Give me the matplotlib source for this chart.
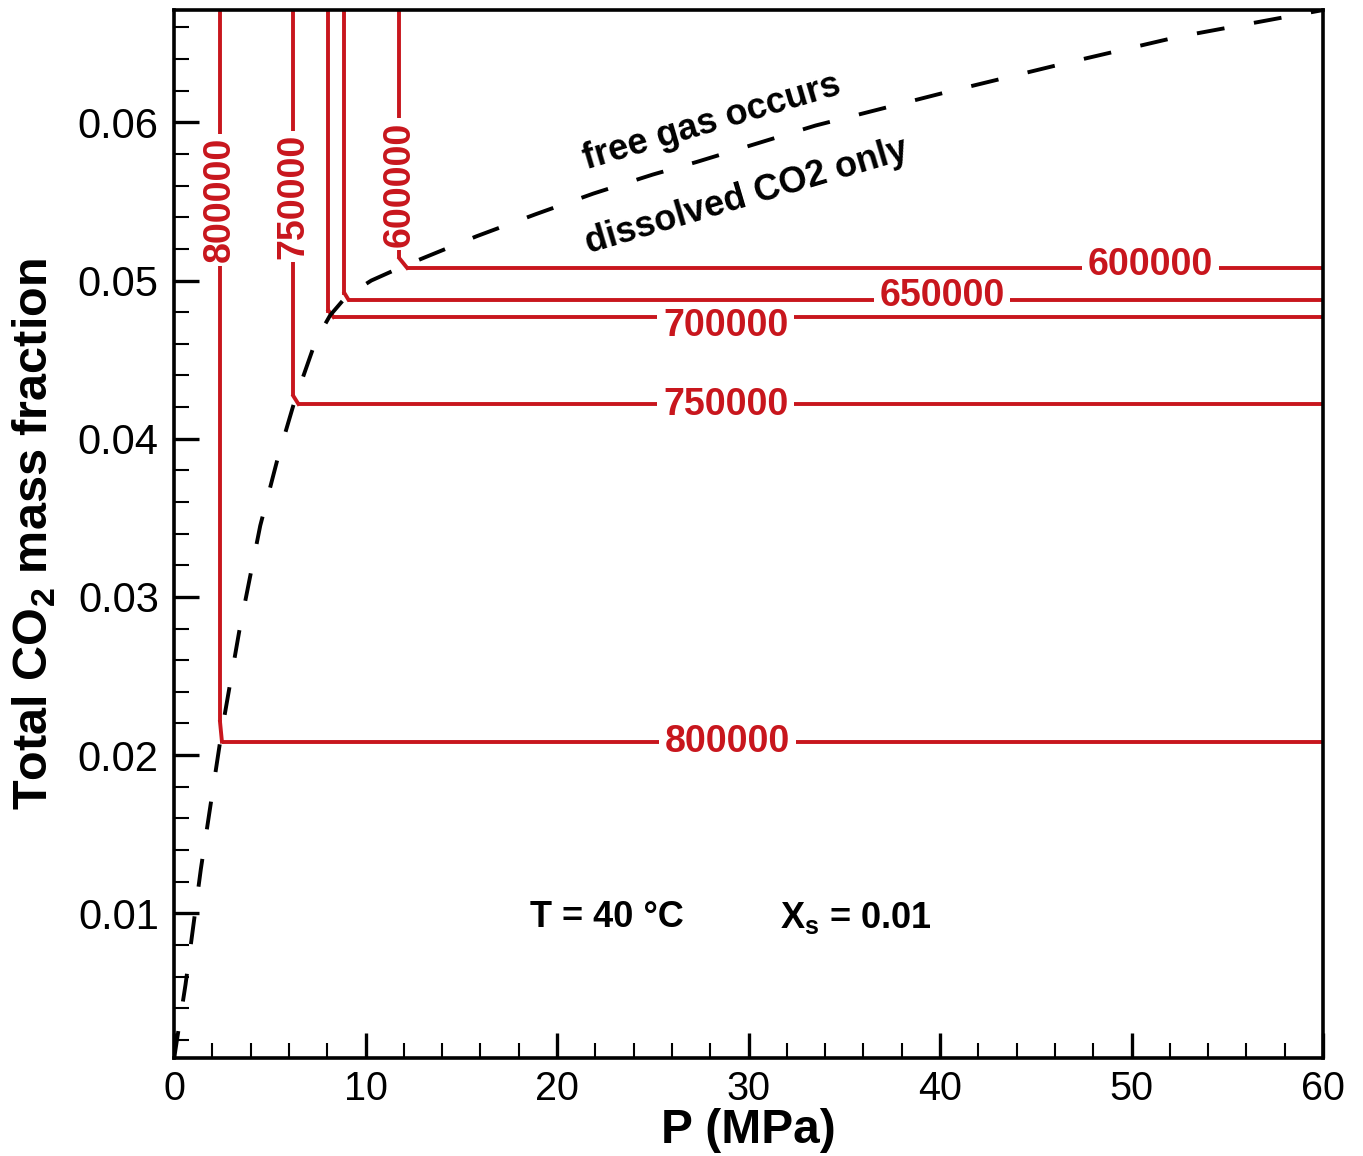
"""Total CO2 mass fraction vs pressure: red contour L-lines and the dashed
free-gas / dissolved-only boundary at T = 40 C, Xs = 0.01."""
import matplotlib
matplotlib.use("Agg")
import matplotlib.pyplot as plt
from matplotlib.ticker import MultipleLocator, FormatStrFormatter

plt.rcParams["font.family"] = ["Liberation Sans", "DejaVu Sans"]
plt.rcParams["mathtext.fontset"] = "custom"
plt.rcParams["mathtext.rm"] = "Liberation Sans"
plt.rcParams["mathtext.bf"] = "Liberation Sans:bold"

# contour levels; each is an L: vertical branch at vert_p, horizontal branch at horiz_x
levels = [800000, 750000, 700000, 650000, 600000]
vert_p = [2.40, 6.23, 8.06, 8.90, 11.77]
knee_x = [0.0221, 0.0427, 0.0481, 0.0492, 0.0514]
knee_p = [2.50, 6.49, 8.32, 9.10, 12.17]
horiz_x = [0.02085, 0.0422, 0.0477, 0.0488, 0.0508]
# where the labels sit (horizontal branch: P, fraction; vertical branch: fraction)
hlabel_p = [28.9, 28.8, 28.8, 40.1, 51.0]
hlabel_x = [0.02085, 0.0421, 0.04715, 0.0490, 0.0510]
vlabel_x = [0.0551, 0.0553, None, None, 0.0561]

# two-phase boundary (dashed)
bound_p = [0.0, 0.6, 1.4, 2.45, 3.4, 4.5, 5.4, 6.3, 7.4, 8.15, 9.0, 10.3, 11.96,
           15.8, 18.9, 21.9, 25.0, 27.3, 33.5, 40.3, 46.4, 52.4, 60.0]
bound_x = [0.0008, 0.0055, 0.0128, 0.0212, 0.0278, 0.0345, 0.0387, 0.0424,
           0.0462, 0.0478, 0.0490, 0.0500, 0.0509,
           0.0528, 0.0542, 0.0555, 0.0567, 0.0575, 0.0598, 0.0619, 0.0637, 0.0654, 0.0671]

RED = "#c8161d"
lw = 2.8

fig = plt.figure(figsize=(13.63, 11.56), dpi=100, facecolor="white")
ax = fig.add_axes([0.1277, 0.0848, 0.8430, 0.9065])
ax.set_xlim(0, 60)
ax.set_ylim(0.00085, 0.0671)
fig.canvas.draw()
rend = fig.canvas.get_renderer()
inv = ax.transData.inverted()

lab_kw = dict(color=RED, fontsize=27, fontweight="bold", ha="center", va="center", zorder=4)


def extent(t):
    bb = t.get_window_extent(rend)
    (x0, y0), (x1, y1) = inv.transform([[bb.x0, bb.y0], [bb.x1, bb.y1]])
    return x0, x1, y0, y1


for i, lev in enumerate(levels):
    # horizontal branch with a gap for its label
    yh = horiz_x[i]
    t = ax.text(hlabel_p[i], hlabel_x[i], f"{lev}", **lab_kw)
    x0, x1, _, _ = extent(t)
    g = 0.3
    ax.plot([knee_p[i], x0 - g], [yh, yh], color=RED, lw=lw, solid_capstyle="butt")
    ax.plot([x1 + g, 60], [yh, yh], color=RED, lw=lw, solid_capstyle="butt")
    # knee + vertical branch
    ax.plot([vert_p[i], knee_p[i]], [knee_x[i], yh], color=RED, lw=lw)
    if vlabel_x[i] is None:
        ax.plot([vert_p[i], vert_p[i]], [knee_x[i], 0.07], color=RED, lw=lw)
    else:
        tv = ax.text(vert_p[i], vlabel_x[i], f"{lev}", rotation=90, **lab_kw)
        _, _, y0, y1 = extent(tv)
        gy = 0.0002
        ax.plot([vert_p[i], vert_p[i]], [knee_x[i], y0 - gy], color=RED, lw=lw,
                solid_capstyle="butt")
        ax.plot([vert_p[i], vert_p[i]], [y1 + gy, 0.07], color=RED, lw=lw,
                solid_capstyle="butt")

ax.plot(bound_p, bound_x, color="black", lw=lw, ls=(0, (7.2, 7.7)), zorder=5)

ax.text(28.1, 0.0600, "free gas occurs", rotation=16.5, rotation_mode="anchor",
        ha="center", va="center", fontsize=26, fontweight="bold")
ax.text(29.9, 0.0553, "dissolved CO2 only", rotation=16.5, rotation_mode="anchor",
        ha="center", va="center", fontsize=26, fontweight="bold")
ax.text(22.6, 0.0097, "T = 40 °C", ha="center", va="center", fontsize=26, fontweight="bold")
ax.text(35.6, 0.0097, r"X$_\mathbf{s}$ = 0.01", ha="center", va="center",
        fontsize=26, fontweight="bold")

ax.xaxis.set_major_locator(MultipleLocator(10))
ax.xaxis.set_minor_locator(MultipleLocator(2))
ax.yaxis.set_major_locator(MultipleLocator(0.01))
ax.yaxis.set_minor_locator(MultipleLocator(0.002))
ax.yaxis.set_major_formatter(FormatStrFormatter("%.2f"))
ax.tick_params(which="both", direction="in", top=False, right=False)
ax.tick_params(which="major", length=18, width=2.4)
ax.tick_params(axis="y", which="major", pad=11, labelsize=30)
ax.tick_params(axis="x", which="major", pad=9, labelsize=28.5)
ax.tick_params(which="minor", length=11, width=1.5)
for s in ax.spines.values():
    s.set_linewidth(2.6)

ax.set_xlabel("P (MPa)", fontsize=34.5, fontweight="bold", labelpad=0)
ax.set_ylabel(r"Total CO$_\mathbf{2}$ mass fraction", fontsize=35, fontweight="bold",
              labelpad=14)

fig.savefig("out.png", dpi=100)
